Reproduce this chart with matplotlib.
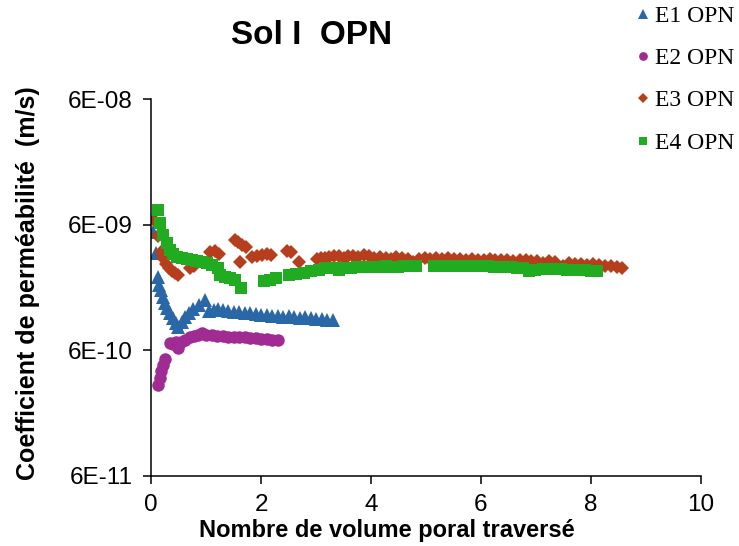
import matplotlib

matplotlib.use("Agg")
import matplotlib.pyplot as plt
from matplotlib.ticker import FixedLocator, FixedFormatter, NullLocator

# E1 OPN (m/s)
e1_x = [0.04, 0.09, 0.13, 0.14, 0.18, 0.22, 0.25, 0.29, 0.34, 0.40,
        0.45, 0.49, 0.56, 0.61, 0.69, 0.76, 0.88, 0.99, 1.06, 1.14,
        1.21, 1.30, 1.40, 1.50, 1.60, 1.70, 1.80, 1.90, 2.00, 2.10,
        2.20, 2.30, 2.40, 2.50, 2.60, 2.70, 2.80, 2.90, 3.00, 3.10,
        3.20, 3.30]
e1_y = [5.2e-9, 3.6e-9, 2.3e-9, 2.0e-9, 1.81e-9, 1.60e-9, 1.43e-9, 1.30e-9, 1.19e-9, 1.09e-9,
        0.99e-9, 0.92e-9, 1.00e-9, 1.10e-9, 1.19e-9, 1.28e-9, 1.37e-9, 1.51e-9, 1.23e-9, 1.26e-9,
        1.28e-9, 1.25e-9, 1.24e-9, 1.22e-9, 1.21e-9, 1.19e-9, 1.18e-9, 1.16e-9, 1.15e-9, 1.14e-9,
        1.13e-9, 1.12e-9, 1.11e-9, 1.12e-9, 1.10e-9, 1.09e-9, 1.10e-9, 1.08e-9, 1.07e-9, 1.06e-9,
        1.05e-9, 1.04e-9]

# E2 OPN
e2_x = [0.12, 0.16, 0.19, 0.22, 0.26, 0.34, 0.40, 0.45, 0.49, 0.55,
        0.62, 0.70, 0.78, 0.85, 0.92, 1.00, 1.10, 1.20, 1.30, 1.40,
        1.50, 1.60, 1.70, 1.80, 1.90, 2.00, 2.10, 2.20, 2.30]
e2_y = [3.2e-10, 3.6e-10, 4.1e-10, 4.6e-10, 5.1e-10, 6.9e-10, 6.8e-10, 7.0e-10, 6.3e-10, 7.0e-10,
        7.3e-10, 7.6e-10, 7.8e-10, 8.0e-10, 8.2e-10, 8.0e-10, 7.9e-10, 7.8e-10, 7.8e-10, 7.7e-10,
        7.7e-10, 7.6e-10, 7.6e-10, 7.5e-10, 7.5e-10, 7.4e-10, 7.4e-10, 7.3e-10, 7.3e-10]

# E3 OPN
e3_x = [0.05, 0.13, 0.18, 0.22, 0.27, 0.32, 0.38, 0.43, 0.49, 0.70,
        0.78, 1.08, 1.17, 1.23, 1.52, 1.59, 1.62, 1.66, 1.73, 1.84,
        1.93, 2.02, 2.11, 2.18, 2.47, 2.55, 2.69,
        3.01, 3.09, 3.16, 3.23, 3.32, 3.41, 3.50, 3.59, 3.68, 3.77,
        3.88, 3.97, 4.06, 4.17, 4.28, 4.37, 4.46, 4.57, 4.68, 4.77,
        4.87, 4.98, 5.07, 5.18, 5.29, 5.40, 5.51, 5.61, 5.72, 5.83,
        5.94, 6.05, 6.16, 6.26, 6.37, 6.48, 6.59, 6.70, 6.81, 6.91,
        7.02, 7.13, 7.24, 7.35, 7.49, 7.60, 7.71, 7.82, 7.92, 8.03,
        8.14, 8.25, 8.36, 8.47, 8.57]
e3_y = [6.53e-9, 4.87e-9, 3.63e-9, 3.25e-9, 2.91e-9, 2.71e-9, 2.56e-9, 2.47e-9, 2.38e-9, 2.71e-9,
        2.81e-9, 3.63e-9, 3.70e-9, 3.50e-9, 4.53e-9, 4.36e-9, 3.02e-9, 4.13e-9, 3.98e-9, 3.31e-9,
        3.37e-9, 3.44e-9, 3.50e-9, 3.44e-9, 3.70e-9, 3.63e-9, 3.02e-9,
        3.19e-9, 3.25e-9, 3.25e-9, 3.31e-9, 3.37e-9, 3.37e-9, 3.25e-9, 3.37e-9, 3.37e-9, 3.31e-9,
        3.44e-9, 3.37e-9, 3.25e-9, 3.31e-9, 3.25e-9, 3.19e-9, 3.31e-9, 3.25e-9, 3.19e-9, 3.02e-9,
        3.19e-9, 3.25e-9, 3.19e-9, 3.25e-9, 3.19e-9, 3.25e-9, 3.19e-9, 3.19e-9, 3.14e-9, 3.19e-9,
        3.14e-9, 3.14e-9, 3.19e-9, 3.14e-9, 3.14e-9, 3.14e-9, 3.08e-9, 3.14e-9, 3.14e-9, 3.08e-9,
        3.08e-9, 2.97e-9, 3.08e-9, 3.02e-9, 2.81e-9, 2.97e-9, 2.91e-9, 2.91e-9, 2.86e-9, 2.91e-9,
        2.86e-9, 2.81e-9, 2.81e-9, 2.76e-9, 2.71e-9]

# E4 OPN
e4_x = [0.13, 0.16, 0.22, 0.29, 0.34, 0.40, 0.47, 0.56, 0.65, 0.74,
        0.83, 0.92, 1.01, 1.10, 1.21, 1.25, 1.34, 1.43, 1.53, 1.64,
        2.06, 2.17, 2.27, 2.51, 2.64, 2.78, 2.91, 3.05, 3.19, 3.30,
        3.41, 3.50, 3.63, 3.74, 3.84, 3.95, 4.06, 4.17, 4.28, 4.39,
        4.49, 4.60, 4.71, 4.82, 5.14, 5.25, 5.36, 5.47, 5.58, 5.69,
        5.79, 5.90, 6.01, 6.12, 6.23, 6.34, 6.44, 6.55, 6.66, 6.77,
        6.88, 6.99, 7.13, 7.24, 7.35, 7.45, 7.56, 7.67, 7.78, 7.89,
        8.00, 8.10]
e4_y = [7.84e-9, 6.18e-9, 4.96e-9, 4.29e-9, 3.77e-9, 3.50e-9, 3.31e-9, 3.25e-9, 3.19e-9, 3.14e-9,
        3.08e-9, 3.02e-9, 2.97e-9, 2.86e-9, 2.71e-9, 2.38e-9, 2.30e-9, 2.26e-9, 2.18e-9, 1.88e-9,
        2.13e-9, 2.18e-9, 2.26e-9, 2.38e-9, 2.43e-9, 2.47e-9, 2.56e-9, 2.61e-9, 2.71e-9, 2.71e-9,
        2.61e-9, 2.71e-9, 2.71e-9, 2.76e-9, 2.76e-9, 2.76e-9, 2.76e-9, 2.76e-9, 2.81e-9, 2.76e-9,
        2.76e-9, 2.81e-9, 2.81e-9, 2.81e-9, 2.81e-9, 2.81e-9, 2.81e-9, 2.81e-9, 2.81e-9, 2.81e-9,
        2.81e-9, 2.81e-9, 2.81e-9, 2.81e-9, 2.76e-9, 2.76e-9, 2.76e-9, 2.76e-9, 2.71e-9, 2.71e-9,
        2.56e-9, 2.61e-9, 2.66e-9, 2.66e-9, 2.66e-9, 2.66e-9, 2.61e-9, 2.61e-9, 2.61e-9, 2.61e-9,
        2.56e-9, 2.56e-9]

y_ticks = [6e-11, 6e-10, 6e-9, 6e-8]
y_tick_labels = ["6E-11", "6E-10", "6E-09", "6E-08"]
x_ticks = [0, 2, 4, 6, 8, 10]

plt.rcParams["font.family"] = ["Liberation Sans", "DejaVu Sans"]

fig = plt.figure(figsize=(7.39, 5.46), dpi=100)
ax = fig.add_axes([151 / 739, 1 - 476 / 546, 550 / 739, 377 / 546])

ax.plot(e1_x, e1_y, "^", color="#2a67a6", markersize=10.5, markeredgewidth=0, label="E1 OPN")
ax.plot(e2_x, e2_y, "o", color="#a02b93", markersize=9, markeredgewidth=0, label="E2 OPN")
ax.plot(e3_x, e3_y, "D", color="#b63e1c", markersize=7.5, markeredgewidth=0, label="E3 OPN")
ax.plot(e4_x, e4_y, "s", color="#20ab20", markersize=8.5, markeredgewidth=0, label="E4 OPN")

ax.set_yscale("log")
ax.set_ylim(6e-11, 6e-8)
ax.set_xlim(0, 10)
ax.yaxis.set_major_locator(FixedLocator(y_ticks))
ax.yaxis.set_major_formatter(FixedFormatter(y_tick_labels))
ax.yaxis.set_minor_locator(NullLocator())
ax.set_xticks(x_ticks)

for side in ["top", "right"]:
    ax.spines[side].set_visible(False)
for side in ["left", "bottom"]:
    ax.spines[side].set_linewidth(1.1)
ax.tick_params(axis="both", direction="out", length=6, width=1.1, labelsize=17.5, pad=7)

fig.text(312 / 739, 1 - 36 / 546, "Sol I  OPN", ha="center", va="center",
         fontsize=24, fontweight="bold")
fig.text(387 / 739, 1 - 531 / 546, "Nombre de volume poral traversé", ha="center",
         va="center", fontsize=17, fontweight="bold")
fig.text(28 / 739, 1 - 283 / 546, "Coefficient de perméabilité  (m/s)", ha="center",
         va="center", rotation=90, fontsize=18, fontweight="bold")

fig.legend(loc="upper left", bbox_to_anchor=(634 / 739, 1 - 3 / 546), frameon=False,
           prop={"family": "Liberation Serif", "size": 17}, markerscale=0.7,
           handlelength=0.55, handletextpad=0.25, labelspacing=0.88, borderpad=0.1,
           borderaxespad=0)

fig.savefig("out.png", dpi=100)
